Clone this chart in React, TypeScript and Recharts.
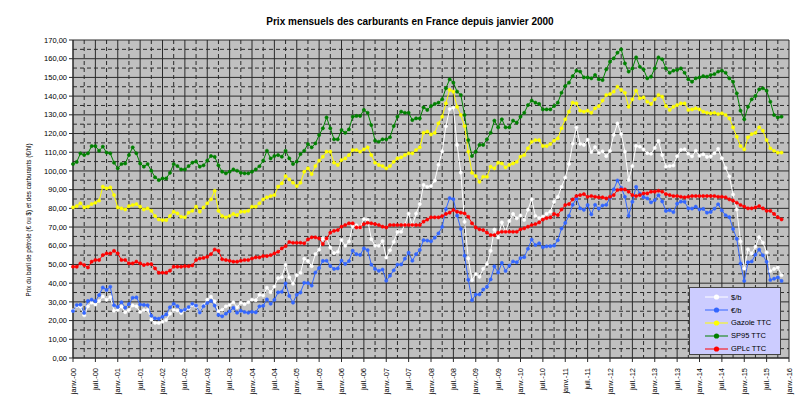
import React from "react";
import { LineChart, Line, XAxis, YAxis, CartesianGrid } from "recharts";

// x tick labels, one every 6 months (index = months since janv.-00)
const tickLabels = [
  "janv.-00", "juil.-00", "janv.-01", "juil.-01", "janv.-02", "juil.-02", "janv.-03", "juil.-03",
  "janv.-04", "juil.-04", "janv.-05", "juil.-05", "janv.-06", "juil.-06", "janv.-07", "juil.-07",
  "janv.-08", "juil.-08", "janv.-09", "juil.-09", "janv.-10", "juil.-10", "janv.-11", "juil.-11",
  "janv.-12", "juil.-12", "janv.-13", "juil.-13", "janv.-14", "juil.-14", "janv.-15", "juil.-15",
  "janv.-16",
];

const yTicks = [0, 10, 20, 30, 40, 50, 60, 70, 80, 90, 100, 110, 120, 130, 140, 150, 160, 170];

// monthly values, janv. 2000 -> nov. 2015
const dollarBarrel = [
  25.5, 27.8, 27.5, 22.8, 27.6, 29.6, 28.6, 30.4, 32.9, 31.1, 32.6, 25.3,
  25.6, 27.5, 24.5, 25.7, 28.1, 27.6, 24.6, 25.6, 25.7, 20.5, 18.8, 18.7,
  19.4, 20.3, 23.7, 25.7, 25.4, 24.1, 25.7, 26.6, 28.4, 27.5, 24.3, 28.2,
  31.2, 32.8, 30.3, 25.0, 25.8, 27.6, 28.4, 29.8, 27.1, 29.6, 28.8, 29.8,
  31.2, 30.9, 33.8, 33.4, 37.6, 35.2, 38.2, 42.7, 43.2, 49.8, 43.1, 39.7,
  44.3, 45.5, 53.1, 51.9, 49.1, 55.6, 57.9, 63.8, 63.7, 59.1, 56.1, 56.8,
  63.1, 60.0, 62.3, 70.4, 70.9, 69.7, 74.3, 73.9, 63.5, 60.1, 60.0, 62.5,
  53.7, 57.6, 62.1, 67.4, 67.5, 71.3, 77.2, 70.8, 77.2, 82.3, 92.5, 91.5,
  91.9, 94.8, 103.3, 110.4, 123.9, 133.1, 133.9, 113.9, 99.1, 72.8, 53.2, 41.6,
  44.9, 43.4, 47.7, 50.2, 57.3, 68.6, 64.4, 72.5, 67.7, 73.2, 77.0, 74.7,
  76.2, 73.8, 79.3, 84.9, 75.9, 74.8, 75.6, 77.1, 78.2, 83.5, 86.1, 91.5,
  96.5, 103.7, 114.6, 123.3, 114.5, 113.9, 116.7, 110.1, 112.8, 109.6, 110.5, 107.9,
  110.7, 119.3, 125.4, 119.8, 110.3, 95.2, 102.6, 113.4, 113.0, 111.5, 109.5, 109.2,
  112.3, 116.1, 108.5, 102.3, 102.6, 102.9, 107.9, 111.3, 111.6, 109.1, 107.8, 110.8,
  108.1, 108.9, 107.5, 107.8, 109.5, 111.8, 106.8, 101.6, 97.1, 87.4, 79.4, 62.3,
  47.8, 58.1, 55.9, 59.5, 64.6, 61.7, 56.5, 46.5, 47.6, 48.4, 44.3,
];

const euroBarrel = [
  25.1, 28.3, 28.5, 24.1, 30.5, 31.2, 30.4, 33.6, 37.7, 36.4, 38.1, 28.2,
  27.3, 29.8, 26.9, 28.8, 32.2, 32.4, 28.6, 28.4, 28.2, 22.6, 21.2, 21.0,
  22.0, 23.3, 27.1, 29.0, 27.7, 25.2, 25.9, 27.2, 29.0, 28.0, 24.3, 27.7,
  29.4, 30.5, 28.0, 23.0, 22.3, 23.7, 25.0, 26.8, 24.2, 25.3, 24.6, 24.2,
  24.7, 24.4, 27.6, 27.9, 31.3, 29.0, 31.1, 35.1, 35.4, 39.9, 33.2, 29.6,
  33.8, 35.0, 40.2, 40.1, 38.7, 45.7, 48.1, 51.9, 52.0, 49.2, 47.6, 47.9,
  52.1, 50.3, 51.8, 57.4, 55.5, 55.1, 58.6, 57.7, 49.9, 47.6, 46.6, 47.3,
  41.3, 44.0, 46.9, 49.9, 50.0, 53.1, 56.3, 52.0, 55.5, 57.8, 63.0, 62.8,
  62.4, 64.3, 66.6, 70.1, 79.6, 85.5, 84.9, 76.1, 69.0, 54.7, 41.8, 30.9,
  33.9, 34.0, 36.6, 38.1, 42.0, 49.0, 45.7, 50.8, 46.5, 49.4, 51.6, 51.2,
  53.4, 53.9, 58.4, 63.3, 60.4, 61.3, 59.2, 59.7, 59.8, 60.1, 63.0, 69.2,
  72.2, 76.0, 81.9, 85.3, 80.0, 79.2, 81.8, 76.8, 81.9, 79.9, 81.5, 81.9,
  85.7, 90.2, 94.9, 91.0, 86.2, 76.0, 83.5, 91.5, 87.9, 86.0, 85.3, 83.2,
  84.4, 87.0, 83.7, 78.6, 79.0, 78.0, 82.5, 83.6, 83.5, 80.0, 79.9, 80.9,
  79.4, 79.7, 77.7, 78.1, 79.8, 82.2, 78.9, 76.3, 75.3, 69.0, 63.7, 50.5,
  41.2, 51.2, 51.6, 55.2, 57.9, 54.9, 51.4, 41.7, 42.4, 43.1, 41.2,
];

const gazole = [
  80.5, 81.2, 82.7, 80.5, 80.9, 82.3, 83.0, 84.1, 91.6, 90.7, 91.2, 87.1,
  80.5, 80.0, 79.4, 81.2, 81.8, 82.3, 80.9, 79.4, 80.0, 78.7, 75.9, 74.1,
  73.7, 73.7, 75.9, 78.2, 77.3, 75.5, 75.2, 77.7, 78.7, 80.9, 78.2, 80.5,
  82.7, 84.8, 89.4, 78.7, 75.9, 75.2, 75.9, 77.0, 76.4, 78.2, 78.2, 78.7,
  80.9, 80.9, 82.7, 84.8, 85.9, 86.6, 87.1, 91.6, 93.4, 97.3, 95.5, 93.7,
  91.9, 93.7, 99.6, 101.4, 98.3, 102.6, 105.5, 107.6, 110.3, 110.3, 104.4, 103.2,
  105.8, 106.7, 108.5, 111.2, 111.2, 110.3, 111.5, 112.6, 108.5, 104.4, 103.2, 102.6,
  101.4, 102.6, 104.9, 106.7, 107.3, 108.5, 109.4, 109.4, 111.2, 112.6, 120.4, 121.0,
  119.5, 120.4, 125.4, 129.0, 136.1, 143.3, 142.4, 134.3, 129.9, 124.0, 110.3, 99.0,
  97.3, 94.2, 96.9, 96.9, 102.3, 101.4, 104.4, 104.0, 101.9, 103.2, 104.0, 104.9,
  107.6, 108.5, 112.1, 115.6, 116.5, 116.5, 113.3, 113.3, 114.4, 116.2, 117.4, 122.8,
  127.6, 131.7, 136.5, 136.1, 132.2, 131.7, 132.2, 131.1, 133.5, 134.7, 137.6, 140.6,
  141.1, 142.4, 145.0, 143.3, 141.8, 134.3, 138.3, 142.9, 138.8, 139.3, 137.0, 135.8,
  138.3, 140.6, 139.7, 134.7, 132.6, 134.3, 135.2, 136.1, 136.1, 132.6, 132.9, 133.5,
  132.9, 131.7, 131.1, 130.8, 131.1, 130.4, 130.8, 129.9, 128.1, 123.3, 118.3, 113.3,
  111.5, 118.0, 119.7, 120.4, 123.3, 121.5, 116.5, 112.1, 110.8, 109.8, 109.8,
];

const sp95 = [
  103.7, 104.8, 109.4, 108.5, 109.4, 113.3, 113.3, 110.8, 113.0, 109.8, 109.4, 104.4,
  101.4, 103.7, 104.0, 108.5, 112.6, 109.4, 104.0, 102.3, 103.7, 100.1, 96.6, 95.1,
  96.0, 96.0, 99.0, 103.7, 102.6, 100.8, 100.8, 102.6, 104.4, 105.0, 102.3, 103.0,
  105.5, 108.0, 107.5, 103.0, 99.6, 98.7, 99.6, 100.8, 100.1, 99.0, 98.7, 98.7,
  99.6, 100.8, 102.5, 105.5, 110.8, 106.7, 108.0, 108.5, 107.6, 110.8, 106.7, 103.7,
  105.0, 109.0, 110.8, 114.4, 112.6, 114.7, 119.2, 122.8, 128.6, 122.8, 116.9, 116.9,
  121.9, 120.4, 122.2, 129.0, 129.4, 129.4, 132.6, 131.1, 124.5, 116.2, 115.6, 116.9,
  116.9, 118.0, 124.0, 129.0, 131.7, 131.1, 131.1, 127.2, 128.1, 128.1, 134.0, 132.6,
  134.7, 135.8, 136.5, 138.3, 144.2, 149.0, 147.2, 142.4, 140.6, 129.9, 116.5, 108.0,
  110.3, 113.9, 113.9, 116.9, 120.4, 126.9, 123.3, 127.6, 123.3, 123.3, 126.9, 125.8,
  129.0, 131.1, 135.2, 137.6, 136.5, 135.8, 132.9, 132.9, 132.9, 134.7, 136.5, 141.8,
  145.4, 147.2, 150.7, 153.6, 153.1, 150.0, 150.0, 149.5, 151.3, 149.0, 148.6, 154.3,
  158.4, 160.2, 163.2, 165.0, 157.5, 153.1, 154.8, 160.7, 155.7, 154.3, 149.5, 150.4,
  154.8, 160.7, 159.7, 154.8, 152.5, 153.6, 154.0, 154.8, 152.5, 149.0, 147.7, 149.5,
  150.0, 150.7, 150.4, 151.3, 151.8, 153.1, 153.6, 152.5, 149.5, 147.7, 141.5, 132.2,
  127.6, 134.3, 138.3, 140.1, 143.6, 144.2, 142.9, 137.0, 129.9, 128.6, 129.0,
];

const gplc = [
  48.8, 48.8, 50.6, 49.7, 48.4, 51.5, 52.4, 52.4, 55.0, 55.9, 55.9, 57.3,
  55.9, 52.4, 52.4, 50.6, 50.6, 51.5, 50.6, 49.7, 50.2, 50.2, 47.9, 45.6,
  45.6, 45.6, 46.7, 48.8, 48.8, 48.8, 49.1, 49.1, 49.5, 52.4, 53.2, 53.5,
  54.1, 55.5, 58.0, 57.3, 52.8, 52.4, 52.0, 51.5, 51.5, 52.0, 52.4, 52.4,
  53.2, 53.8, 53.8, 54.5, 54.5, 55.0, 55.9, 56.8, 58.6, 59.8, 62.0, 61.6,
  61.6, 61.6, 61.3, 63.4, 64.5, 64.5, 63.9, 60.9, 63.9, 67.0, 68.0, 68.4,
  70.2, 71.1, 72.0, 72.0, 69.8, 69.8, 71.6, 72.3, 72.0, 71.6, 71.1, 70.2,
  69.8, 71.1, 71.1, 71.1, 71.1, 71.1, 71.1, 71.1, 71.1, 71.1, 72.9, 74.0,
  75.2, 75.2, 75.2, 75.9, 77.0, 77.7, 79.1, 78.2, 77.7, 77.3, 75.5, 72.0,
  69.8, 68.8, 68.4, 67.0, 65.7, 65.7, 67.0, 67.5, 67.5, 67.5, 67.5, 67.5,
  68.8, 69.3, 70.2, 71.1, 71.6, 72.5, 74.0, 74.8, 75.2, 77.0, 76.4, 79.4,
  81.8, 82.3, 84.8, 86.6, 87.1, 87.6, 86.2, 86.6, 86.2, 85.9, 85.9, 85.3,
  86.2, 87.1, 89.8, 90.1, 90.1, 88.9, 87.1, 86.6, 87.1, 88.0, 88.0, 88.9,
  88.9, 89.4, 88.9, 87.6, 87.1, 86.6, 86.6, 86.2, 85.9, 86.2, 86.6, 86.6,
  86.6, 86.6, 86.6, 86.6, 86.6, 86.2, 86.2, 85.9, 84.8, 84.1, 83.0, 81.8,
  80.9, 80.0, 80.0, 80.5, 81.2, 80.0, 78.7, 78.7, 77.0, 75.2, 74.1,
];

const series = [
  { key: "usd", name: "$/b", color: "#ffffff", values: dollarBarrel },
  { key: "eur", name: "€/b", color: "#3366ff", values: euroBarrel },
  { key: "gazole", name: "Gazole TTC", color: "#ffff00", values: gazole },
  { key: "sp95", name: "SP95 TTC", color: "#008000", values: sp95 },
  { key: "gplc", name: "GPLc TTC", color: "#ff0000", values: gplc },
];

const data = dollarBarrel.map((_, i) => {
  const row: Record<string, number> = { m: i };
  series.forEach((s) => (row[s.key] = s.values[i]));
  return row;
});

const xTicks = tickLabels.map((_, i) => i * 6);
const xMinor = xTicks.map((v) => v + 3).filter((v) => v < 192);
const yMinor = yTicks.map((v) => v + 5).filter((v) => v < 170);

const FONT = "'Liberation Sans', Arial, sans-serif";
const GRID = "#2b2b2b";

const XTick = ({ x, y, payload }: any) => {
  const label = tickLabels[Math.round(payload.value / 6)];
  return (
    <text
      x={x - 4}
      y={y + 2.5}
      transform={`rotate(-90 ${x} ${y})`}
      textAnchor="end"
      fontSize={7.5}
      fontFamily={FONT}
      fill="#000"
    >
      {label}
    </text>
  );
};

const YLabel = ({ viewBox }: any) => {
  const cx = viewBox.x + 18;
  const cy = viewBox.y + viewBox.height / 2 + 21;
  return (
    <text
      x={cx}
      y={cy}
      transform={`rotate(-90 ${cx} ${cy})`}
      textAnchor="middle"
      fontSize={6.3}
      fontFamily={FONT}
      fill="#000"
    >
      Prix du baril de pétrole (€ ou $) et des carburants (€/hl)
    </text>
  );
};

function LegendBox() {
  return (
    <div
      style={{
        position: "absolute",
        left: 689,
        top: 287,
        width: 92,
        height: 68,
        background: "#ccccff",
        border: "1px solid #444",
        fontFamily: FONT,
        fontSize: 7.5,
        paddingTop: 3,
        boxSizing: "border-box",
      }}
    >
      {series.map((s) => (
        <div key={s.key} style={{ display: "flex", alignItems: "center", height: 12.8 }}>
          <svg width={40} height={8} style={{ marginLeft: 15 }}>
            <line x1={0} y1={4} x2={23} y2={4} stroke={s.color} strokeWidth={1} />
            <circle cx={11.5} cy={4} r={2.6} fill={s.color} />
          </svg>
          <span style={{ marginLeft: -14 }}>{s.name}</span>
        </div>
      ))}
    </div>
  );
}

export default function App() {
  return (
    <div
      style={{
        position: "absolute",
        left: 0,
        top: 0,
        width: 800,
        height: 396,
        background: "#fff",
      }}
    >
      <div
        style={{
          position: "absolute",
          left: 0,
          top: 16,
          width: 820,
          textAlign: "center",
          fontFamily: FONT,
          fontWeight: "bold",
          fontSize: 10,
          color: "#000",
        }}
      >
        Prix mensuels des carburants en France depuis janvier 2000
      </div>
      <LineChart
        width={800}
        height={396}
        data={data}
        margin={{ top: 40, right: 11, bottom: 8, left: 13 }}
      >
        <CartesianGrid
          fill="#c0c0c0"
          stroke={GRID}
          strokeDasharray="4 3"
          horizontalValues={yMinor}
          verticalValues={xMinor}
          syncWithTicks={false}
        />
        <CartesianGrid
          stroke={GRID}
          horizontalValues={yTicks}
          verticalValues={xTicks}
          syncWithTicks={false}
        />
        <XAxis
          dataKey="m"
          type="number"
          domain={[0, 192]}
          ticks={xTicks}
          interval={0}
          height={30}
          tick={<XTick />}
          tickSize={4}
          axisLine={{ stroke: GRID }}
          tickLine={{ stroke: GRID }}
        />
        <YAxis
          type="number"
          domain={[0, 170]}
          ticks={yTicks}
          interval={0}
          width={60}
          tickSize={4}
          tickFormatter={(v: number) => v.toFixed(2).replace(".", ",")}
          tick={{ fontSize: 7.5, fontFamily: FONT, fill: "#000" }}
          axisLine={{ stroke: GRID }}
          tickLine={{ stroke: GRID }}
          label={<YLabel />}
        />
        {series.map((s) => (
          <Line
            key={s.key}
            dataKey={s.key}
            name={s.name}
            type="linear"
            stroke={s.color}
            strokeWidth={1}
            dot={{ r: 1.6, fill: s.color, stroke: s.color, strokeWidth: 0.6 }}
            activeDot={false}
            isAnimationActive={false}
          />
        ))}
      </LineChart>
      <LegendBox />
    </div>
  );
}
